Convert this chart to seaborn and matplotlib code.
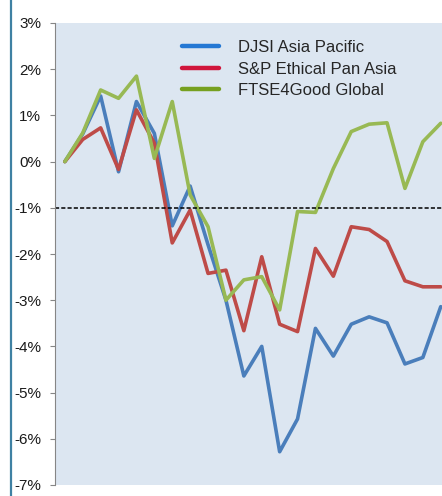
import numpy as np
import pandas as pd
import matplotlib
matplotlib.use("Agg")
import matplotlib.pyplot as plt
from matplotlib.lines import Line2D
import seaborn as sns

# cumulative relative performance, %
series_names = ["DJSI Asia Pacific", "S&P Ethical Pan Asia", "FTSE4Good Global"]
djsi = [0, 0.60, 1.42, -0.22, 1.30, 0.61, -1.39, -0.53, -1.80, -3.00, -4.64,
        -4.00, -6.28, -5.57, -3.61, -4.21, -3.52, -3.36, -3.49, -4.38, -4.24, -3.14]
sp_ethical = [0, 0.48, 0.73, -0.17, 1.12, 0.40, -1.76, -1.05, -2.42, -2.35, -3.66,
              -2.06, -3.52, -3.68, -1.88, -2.48, -1.41, -1.47, -1.73, -2.58, -2.71, -2.71]
ftse4good = [0, 0.62, 1.55, 1.37, 1.85, 0.07, 1.30, -0.72, -1.41, -3.00, -2.56,
             -2.49, -3.21, -1.08, -1.10, -0.15, 0.65, 0.81, 0.84, -0.58, 0.43, 0.83]
y_ticks = [3, 2, 1, 0, -1, -2, -3, -4, -5, -6, -7]
y_labels = ["3%", "2%", "1%", "0%", "-1%", "-2%", "-3%", "-4%", "-5%", "-6%", "-7%"]

period = np.arange(len(djsi))
data = pd.concat([
    pd.DataFrame({"period": period, "ret": djsi, "index": series_names[0]}),
    pd.DataFrame({"period": period, "ret": sp_ethical, "index": series_names[1]}),
    pd.DataFrame({"period": period, "ret": ftse4good, "index": series_names[2]}),
])

sns.set_theme(style="white")
plt.rcParams["font.family"] = ["Liberation Sans", "DejaVu Sans"]

line_cols = ["#4a7ebb", "#be4b48", "#98b954"]
legend_cols = ["#2478d4", "#d0163c", "#76a020"]

W, H = 442, 496
fig = plt.figure(figsize=(W / 100, H / 100), dpi=100)
ax = fig.add_axes([55 / W, 11 / H, 394.7 / W, 462 / H])
ax.set_facecolor("#dce6f1")

sns.lineplot(data=data, x="period", y="ret", hue="index", palette=line_cols,
             linewidth=2.6, legend=False, ax=ax)
ax.axhline(-1, color="black", linestyle=(0, (2.7, 1.4)), linewidth=1.1)

ax.set_xlim(-0.55, 21.5)
ax.set_ylim(-7, 3)
ax.set_xticks([])
ax.set_yticks(y_ticks)
ax.set_yticklabels(y_labels, fontsize=11, color="#1a1a1a")
ax.tick_params(axis="y", left=True, length=3.6, width=0.8, color="#868686", pad=6.5)
ax.set_xlabel("")
ax.set_ylabel("")
for s in ["top", "right", "bottom"]:
    ax.spines[s].set_visible(False)
ax.spines["left"].set_color("#868686")
ax.spines["left"].set_linewidth(0.8)

handles = [Line2D([0], [0], color=c, linewidth=3.2) for c in legend_cols]
ax.legend(handles, series_names, loc="upper left",
          bbox_to_anchor=(182 / W, 1 - 40 / H), bbox_transform=fig.transFigure,
          frameon=False, fontsize=12, handlelength=2.2, handletextpad=1.14,
          labelspacing=0.4, borderpad=0, borderaxespad=0)

# teal border line on the left
fig.add_artist(Line2D([11 / W, 11 / W], [0, 1], transform=fig.transFigure,
                      color="#3f81a3", linewidth=1.6))

fig.savefig("out.png", dpi=100)
